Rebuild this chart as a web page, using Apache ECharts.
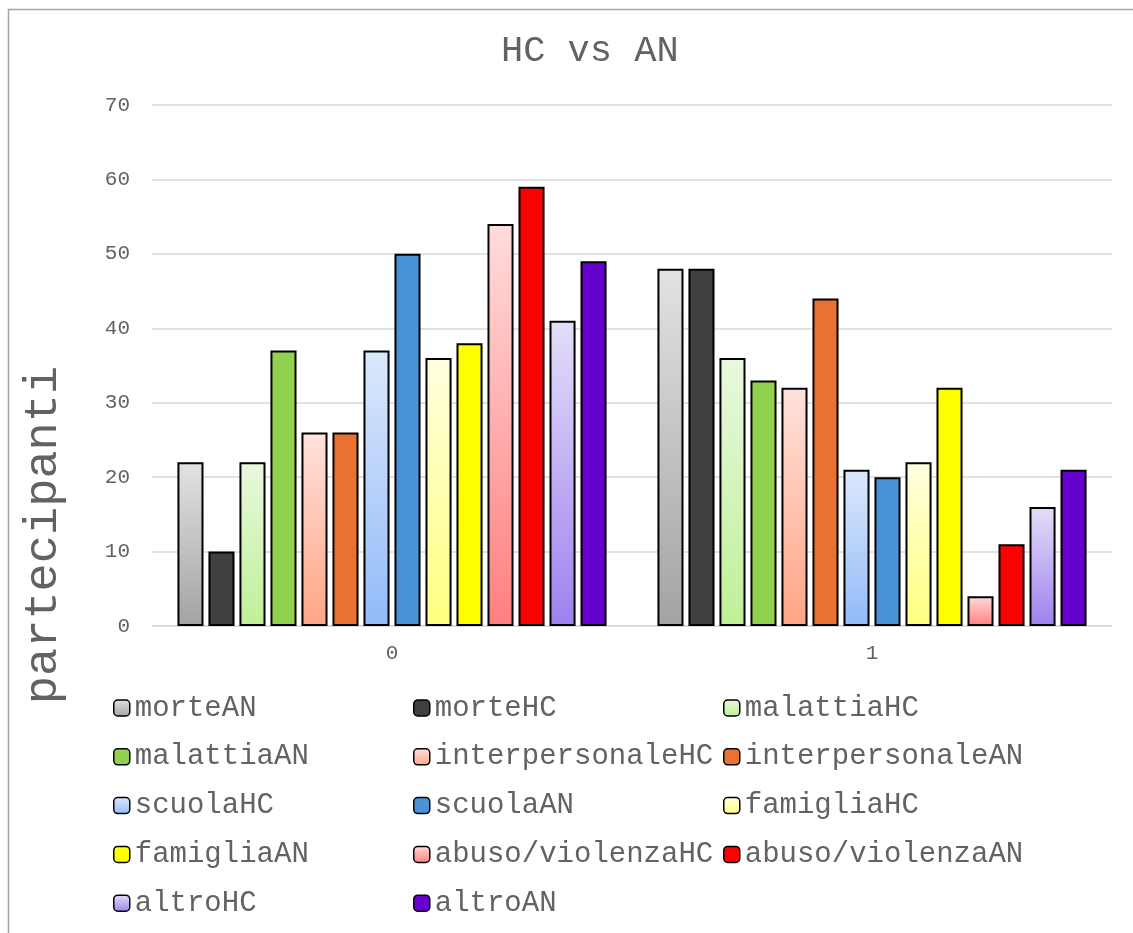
<!DOCTYPE html>
<html>
<head>
<meta charset="utf-8">
<script src="https://cdn.jsdelivr.net/npm/echarts@6/dist/echarts.min.js"></script>
<style>
  html, body { margin: 0; padding: 0; background: #fff; }
  #chart { width: 1133px; height: 933px; }
</style>
</head>
<body>
<div id="chart"></div>
<script>
// Categories on the x axis
const categories = ['0', '1'];

// Series names, in legend order
const seriesNames = [
  'morteAN', 'morteHC', 'malattiaHC', 'malattiaAN',
  'interpersonaleHC', 'interpersonaleAN', 'scuolaHC', 'scuolaAN',
  'famigliaHC', 'famigliaAN', 'abuso/violenzaHC', 'abuso/violenzaAN',
  'altroHC', 'altroAN'
];

// Participant counts per series, category "0"
const valuesCat0 = [22, 10, 22, 37, 26, 26, 37, 50, 36, 38, 54, 59, 41, 49];
// Participant counts per series, category "1"
const valuesCat1 = [48, 48, 36, 33, 32, 44, 21, 20, 22, 32, 4, 11, 16, 21];

// Y axis ticks
const yTicks = { min: 0, max: 70, interval: 10 };

// Fill for each series: [top, bottom] for gradients, single colour for solid
const fills = [
  ['#e2e2e2', '#a3a3a3'], '#404040',
  ['#e8f8de', '#bff097'], '#92d050',
  ['#ffe2dc', '#ffa585'], '#e97132',
  ['#dbe8fc', '#92bbf8'], '#4a93d9',
  ['#ffffe0', '#ffff80'], '#ffff00',
  ['#ffdcdc', '#ff7f7f'], '#ff0000',
  ['#e4def9', '#9f80ef'], '#6600cc'
];

const FONT = "'Liberation Mono', 'Courier New', monospace";
const TEXT = '#626262';

function makeFill(f) {
  if (Array.isArray(f)) {
    return {
      type: 'linear', x: 0, y: 0, x2: 0, y2: 1,
      colorStops: [{ offset: 0, color: f[0] }, { offset: 1, color: f[1] }]
    };
  }
  return f;
}

const series = seriesNames.map((name, i) => ({
  name: name,
  type: 'bar',
  data: [valuesCat0[i], valuesCat1[i]],
  barGap: '19%',
  barCategoryGap: '10.6%',
  itemStyle: { color: makeFill(fills[i]), borderColor: '#000', borderWidth: 2 }
}));

// One legend block per entry, laid out in three columns
const colLeft = [113, 413, 723];
const rowTop = 708;
const rowStep = 48.8;
const legends = seriesNames.map((name, i) => ({
  data: [name],
  left: colLeft[i % 3],
  top: rowTop + Math.floor(i / 3) * rowStep - 15,
  itemWidth: 16,
  itemHeight: 16,
  padding: 0,
  selectedMode: false,
  itemStyle: { borderColor: '#000', borderWidth: 1.5 },
  textStyle: { fontFamily: FONT, fontSize: 29, color: TEXT, lineHeight: 30 }
}));

const chart = echarts.init(document.getElementById('chart'), null, { renderer: 'canvas' });
chart.setOption({
  animation: false,
  backgroundColor: '#fff',
  title: {
    text: 'HC vs AN',
    left: 501,
    top: 33,
    padding: 0,
    textStyle: { fontFamily: FONT, fontSize: 37, fontWeight: 'normal', color: TEXT }
  },
  graphic: [
    {
      type: 'rect',
      shape: { x: 8.5, y: 9.5, width: 1200, height: 1000 },
      style: { fill: 'none', stroke: '#a6a6a6', lineWidth: 1.5 },
      silent: true
    },
    {
      type: 'text',
      x: 44,
      y: 535,
      rotation: Math.PI / 2,
      style: {
        text: 'partecipanti',
        font: "47px 'Liberation Mono', 'Courier New', monospace",
        fill: TEXT,
        textAlign: 'center',
        textVerticalAlign: 'middle'
      }
    }
  ],
  legend: legends,
  grid: { left: 152, right: 21, top: 105, bottom: 307, containLabel: false },
  xAxis: {
    type: 'category',
    data: categories,
    axisLine: { show: true, lineStyle: { color: '#d9d9d9', width: 1.5 } },
    axisTick: { show: false },
    axisLabel: { fontFamily: FONT, fontSize: 21, color: TEXT, margin: 17 }
  },
  yAxis: {
    type: 'value',
    min: yTicks.min,
    max: yTicks.max,
    interval: yTicks.interval,
    axisLine: { show: false },
    axisTick: { show: false },
    splitLine: { lineStyle: { color: '#d9d9d9', width: 1.5 } },
    axisLabel: { fontFamily: FONT, fontSize: 21, color: TEXT, margin: 22 }
  },
  series: series
});
</script>
</body>
</html>
